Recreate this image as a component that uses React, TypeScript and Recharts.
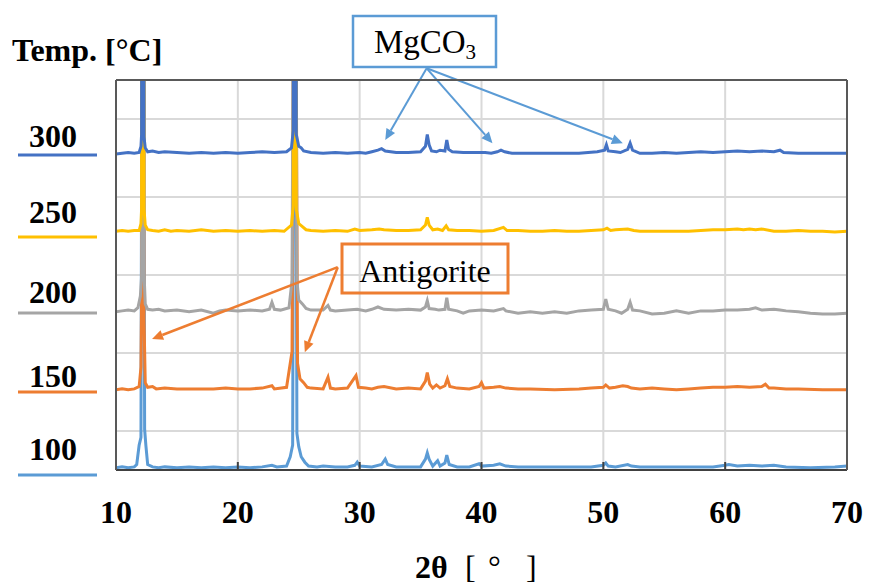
import { LineChart, Line, XAxis, YAxis, CartesianGrid, ReferenceLine } from "recharts";

type Pt = [number, number];

const temps = ["300", "250", "200", "150", "100"];
const colors = ["#4472C4", "#FFC000", "#A5A5A5", "#ED7D31", "#5B9BD5"];
// each pattern is shifted up by its own band (1 unit = one band)
const offsets = [4.05, 3.04, 2.03, 1.02, 0.02];
const xTicks = [10, 20, 30, 40, 50, 60, 70];
const bandTicks = [0.5, 1.5, 2.5, 3.5, 4.5];

// [2θ, intensity above baseline]
const xrd300: Pt[] = [
  [10, 0], [10.5, 0.01], [11, 0.02], [11.5, 0.01], [11.9, 0.02], [12.05, 0.1], [12.1, 0.25], [12.13, 6], [12.27, 6],
  [12.3, 0.22], [12.4, 0.08], [12.6, 0.03], [13, 0.04], [13.5, 0.02], [14, 0.03], [15, 0.02], [16, 0.01], [17, 0.02],
  [18, 0.01], [19, 0.02], [20, 0.01], [21, 0.02], [22, 0.03], [23, 0.02], [24, 0.03], [24.4, 0.08], [24.55, 0.3],
  [24.6, 6], [24.75, 6], [24.8, 0.25], [25, 0.1], [25.2, 0.08], [25.4, 0.04], [26, 0.02], [27, 0.01], [28, 0.02],
  [29, 0.01], [30, 0.02], [30.5, 0.01], [31, 0.03], [31.5, 0.05], [31.8, 0.07], [32.1, 0.04], [33, 0.02], [34, 0.02],
  [35, 0.03], [35.4, 0.1], [35.55, 0.25], [35.7, 0.12], [35.9, 0.04], [36.3, 0.03], [36.6, 0.05], [37, 0.04],
  [37.15, 0.18], [37.3, 0.06], [37.6, 0.03], [38.5, 0.02], [39.5, 0.02], [40.3, 0.02], [40.8, 0.01], [41.3, 0.03],
  [41.6, 0.05], [41.9, 0.03], [42.5, 0.01], [43, 0.01], [45, 0.01], [48, 0.01], [49.5, 0.03], [50.1, 0.05],
  [50.25, 0.12], [50.4, 0.04], [51, 0.03], [51.4, 0.02], [52, 0.06], [52.2, 0.14], [52.4, 0.05], [53, 0.01],
  [54, 0.01], [55, 0.02], [56, 0.01], [57, 0.02], [58, 0.03], [59, 0.02], [60, 0.03], [61, 0.04], [62, 0.03],
  [63, 0.04], [64, 0.03], [64.5, 0.05], [64.8, 0.02], [66, 0.01], [68, 0.01], [70, 0.01],
];

const xrd250: Pt[] = [
  [10, 0.02], [10.5, 0.03], [11, 0.02], [11.5, 0.03], [11.9, 0.03], [12.05, 0.12], [12.1, 0.3], [12.13, 6], [12.27, 6],
  [12.3, 0.3], [12.4, 0.1], [12.6, 0.04], [13, 0.03], [13.5, 0.02], [14, 0.04], [14.5, 0.02], [15, 0.03], [16, 0.02],
  [17, 0.04], [18, 0.02], [19, 0.03], [20, 0.02], [21, 0.03], [22, 0.02], [23, 0.03], [23.8, 0.02], [24.4, 0.1],
  [24.55, 0.35], [24.6, 6], [24.75, 6], [24.8, 0.3], [25, 0.12], [25.3, 0.08], [25.6, 0.04], [26, 0.03], [27, 0.02],
  [28, 0.03], [29, 0.02], [29.6, 0.05], [30, 0.03], [31, 0.04], [31.6, 0.05], [32, 0.04], [33, 0.03], [34, 0.03],
  [35, 0.04], [35.4, 0.1], [35.55, 0.2], [35.7, 0.1], [36, 0.04], [36.4, 0.05], [36.8, 0.03], [37.1, 0.09],
  [37.3, 0.04], [38, 0.03], [39, 0.03], [40, 0.02], [41, 0.03], [41.8, 0.07], [42.1, 0.03], [43, 0.03], [44, 0.02],
  [45, 0.02], [46, 0.03], [47, 0.02], [48, 0.02], [49, 0.03], [50, 0.04], [50.3, 0.06], [50.6, 0.03], [51, 0.04],
  [52, 0.05], [52.5, 0.03], [53, 0.02], [55, 0.02], [57, 0.02], [58, 0.03], [59, 0.04], [60, 0.04], [61, 0.05],
  [61.5, 0.04], [62, 0.05], [62.5, 0.04], [63, 0.05], [64, 0.02], [65, 0.02], [66, 0.03], [67, 0.02], [68, 0.02],
  [69, 0.01], [70, 0.02],
];

const xrd200: Pt[] = [
  [10, 0], [10.5, 0.01], [11, 0.02], [11.5, 0.01], [11.8, 0.05], [12.0, 0.2], [12.1, 0.45], [12.13, 6], [12.27, 6],
  [12.3, 0.5], [12.4, 0.1], [12.6, 0.03], [13, 0.02], [13.5, 0.03], [14, 0.01], [15, 0.02], [16, 0], [17, 0.02],
  [18, -0.02], [18.5, 0.01], [19, 0.02], [20, 0.01], [21, 0.02], [22, 0.01], [22.6, 0.03], [22.8, 0.12], [23.0, 0.03],
  [23.5, 0.02], [24.2, 0.05], [24.45, 0.4], [24.6, 6], [24.75, 6], [24.85, 0.4], [25.0, 0.15], [25.3, 0.1],
  [25.6, 0.04], [26, 0.02], [27, 0.02], [27.4, 0.08], [27.6, 0.02], [28, 0.01], [29, 0.02], [29.8, 0.03], [30.5, 0.01],
  [31, 0.03], [31.5, 0.06], [32, 0.03], [33, 0.02], [34, 0.03], [35, 0.02], [35.4, 0.06], [35.55, 0.14], [35.7, 0.04],
  [36.2, 0.03], [36.5, 0.02], [37, 0.03], [37.15, 0.18], [37.3, 0.03], [38, 0.01], [38.5, -0.02], [39, 0.01],
  [40, 0.02], [41, 0.01], [41.8, 0.04], [42, 0.01], [43, -0.02], [44, 0], [45, -0.02], [46, 0], [47, -0.02],
  [48, 0.01], [49, 0.02], [50, 0.03], [50.2, 0.16], [50.4, 0.03], [51, 0.01], [51.5, -0.02], [52, 0.03],
  [52.2, 0.12], [52.4, 0.02], [53, 0.01], [54, -0.03], [55, -0.02], [56, 0.01], [57, -0.02], [58, 0.01], [59, 0.01],
  [60, 0.02], [61, 0.02], [62, 0.03], [62.5, 0.05], [63, 0.02], [64, 0.03], [64.5, 0.02], [65, 0.01], [66, 0],
  [67, -0.02], [68, -0.03], [69, -0.03], [70, -0.02],
];

const xrd150: Pt[] = [
  [10, 0.01], [10.5, 0.02], [11, 0.01], [11.5, 0.02], [11.9, 0.05], [12.05, 0.3], [12.1, 1.2], [12.13, 6], [12.27, 6],
  [12.3, 0.9], [12.4, 0.1], [12.6, 0.04], [13, 0.05], [13.3, 0.02], [14, 0.03], [15, 0.02], [16, 0.02], [17, 0.02],
  [18, 0.02], [19, 0.03], [20, 0.02], [21, 0.02], [22, 0.03], [22.8, 0.06], [23, 0.02], [24, 0.04], [24.45, 0.5],
  [24.6, 6], [24.75, 6], [24.9, 0.35], [25.1, 0.15], [25.4, 0.1], [25.7, 0.04], [26, 0.03], [27, 0.02], [27.4, 0.17],
  [27.6, 0.03], [28, 0.02], [29, 0.03], [29.7, 0.19], [29.9, 0.04], [30.5, 0.03], [31, 0.02], [31.5, 0.04],
  [32, 0.05], [33, 0.02], [34, 0.03], [35, 0.02], [35.4, 0.12], [35.55, 0.23], [35.75, 0.08], [36, 0.03],
  [36.3, 0.07], [36.6, 0.03], [37, 0.06], [37.2, 0.15], [37.4, 0.05], [38, 0.03], [39, 0.02], [39.8, 0.05],
  [40.0, 0.1], [40.2, 0.03], [41, 0.04], [41.5, 0.05], [42, 0.03], [43, 0.02], [44, 0.02], [46, 0.01], [48, 0.02],
  [49, 0.03], [50, 0.04], [50.2, 0.07], [50.5, 0.03], [51, 0.04], [51.6, 0.06], [52, 0.05], [52.3, 0.03], [53, 0.02],
  [54, 0.03], [55, 0.02], [56, 0.01], [57, 0.02], [58, 0.03], [59, 0.04], [60, 0.04], [61, 0.05], [62, 0.04],
  [63, 0.05], [63.3, 0.08], [63.6, 0.03], [64, 0.03], [65, 0.02], [66, 0.02], [68, 0.01], [70, 0.01],
];

const xrd100: Pt[] = [
  [10, 0.01], [10.5, 0.02], [11, 0.01], [11.5, 0.02], [11.7, 0.05], [11.9, 0.3], [12.05, 0.4], [12.13, 6], [12.27, 6],
  [12.35, 0.5], [12.45, 0.3], [12.6, 0.05], [13, 0.02], [13.5, 0.01], [14, 0.02], [15, 0.01], [16, 0.02], [17, 0.01],
  [18, 0.02], [19, 0.01], [20, 0.02], [21, 0.01], [22, 0.02], [22.8, 0.04], [23.2, 0.02], [24, 0.03], [24.3, 0.15],
  [24.5, 0.3], [24.6, 6], [24.75, 6], [24.85, 0.45], [25.0, 0.28], [25.2, 0.15], [25.5, 0.08], [25.8, 0.03],
  [26.5, 0.02], [27, 0.03], [28, 0.02], [29, 0.02], [29.6, 0.04], [29.8, 0.08], [30, 0.03], [31, 0.02], [31.8, 0.05],
  [32.1, 0.12], [32.3, 0.05], [33, 0.02], [34, 0.02], [35, 0.02], [35.4, 0.12], [35.55, 0.2], [35.7, 0.12], [36, 0.03],
  [36.4, 0.1], [36.6, 0.03], [37, 0.07], [37.15, 0.17], [37.35, 0.05], [38, 0.02], [39, 0.02], [39.8, 0.06],
  [40, 0.03], [41, 0.04], [41.5, 0.06], [42, 0.03], [43, 0.02], [45, 0.02], [47, 0.02], [49, 0.02], [50, 0.04],
  [50.2, 0.07], [50.4, 0.03], [51, 0.02], [52, 0.05], [52.3, 0.03], [53, 0.02], [55, 0.02], [57, 0.02], [59, 0.02],
  [60, 0.04], [60.3, 0.05], [61, 0.03], [62, 0.04], [63, 0.03], [64, 0.04], [65, 0.02], [67, 0.01], [69, 0.02],
  [70, 0.03],
];

const patterns = [xrd300, xrd250, xrd200, xrd150, xrd100];

// annotation arrows, [2θ from, band from, 2θ to, band to]
const mgco3Arrows = [
  [35.5, 5.15, 32.1, 4.23],
  [35.5, 5.15, 40.9, 4.19],
  [35.5, 5.15, 51.6, 4.19],
];
const antigoriteArrows = [
  [28.2, 2.6, 12.96, 1.68],
  [28.2, 2.6, 25.5, 1.51],
];

const serif = "'Liberation Serif', 'Times New Roman', serif";

const Arrow = (props: any) => {
  const { x1, y1, x2, y2, stroke, strokeWidth } = props;
  const a = Math.atan2(y2 - y1, x2 - x1);
  const len = 11;
  const half = 5;
  const bx = x2 - len * Math.cos(a);
  const by = y2 - len * Math.sin(a);
  const pts = `${x2},${y2} ${bx + half * Math.sin(a)},${by - half * Math.cos(a)} ${bx - half * Math.sin(a)},${by + half * Math.cos(a)}`;
  return (
    <g>
      <line x1={x1} y1={y1} x2={bx} y2={by} stroke={stroke} strokeWidth={strokeWidth} />
      <polygon points={pts} fill={stroke} />
    </g>
  );
};

// y-axis ticks are only there for the grid, no label
const NoTick = () => <g />;

const labelBase = [147, 223, 303, 387, 460];
const legendLineY = [155, 237, 313, 392, 475];

export default function App() {
  return (
    <div style={{ position: "absolute", left: 0, top: 0, width: 869, height: 585, background: "#fff" }}>
      <LineChart width={869} height={585} margin={{ top: 79, right: 21, bottom: 114, left: 115 }}>
        <CartesianGrid stroke="#D9D9D9" strokeWidth={2} />
        <XAxis
          dataKey="t"
          type="number"
          domain={[10, 70]}
          ticks={xTicks}
          allowDataOverflow
          height={1}
          tickSize={-8}
          tickMargin={38}
          tickLine={{ stroke: "#404040", strokeWidth: 2 }}
          axisLine={{ stroke: "#404040", strokeWidth: 2 }}
          tick={{ fontSize: 32, fontWeight: "bold", fill: "#000", fontFamily: serif }}
        />
        <XAxis
          xAxisId="top"
          orientation="top"
          dataKey="t"
          type="number"
          domain={[10, 70]}
          height={1}
          tick={false}
          tickLine={false}
          axisLine={{ stroke: "#595959", strokeWidth: 2 }}
        />
        <YAxis
          type="number"
          domain={[0, 5]}
          ticks={bandTicks}
          allowDataOverflow
          width={1}
          tick={NoTick}
          tickLine={false}
          axisLine={{ stroke: "#595959", strokeWidth: 2 }}
        />
        <YAxis
          yAxisId="right"
          orientation="right"
          type="number"
          domain={[0, 5]}
          width={1}
          tick={false}
          tickLine={false}
          axisLine={{ stroke: "#595959", strokeWidth: 2 }}
        />
        {[4, 3, 2, 1, 0].map((i) => (
          <Line
            key={temps[i]}
            data={patterns[i].map(([t, v]) => ({ t, v: v + offsets[i] }))}
            dataKey="v"
            type="linear"
            stroke={colors[i]}
            strokeWidth={3}
            dot={false}
            isAnimationActive={false}
          />
        ))}
        {mgco3Arrows.map((a, k) => (
          <ReferenceLine
            key={"m" + k}
            segment={[{ x: a[0], y: a[1] }, { x: a[2], y: a[3] }]}
            ifOverflow="visible"
            stroke="#5B9BD5"
            strokeWidth={2}
            shape={Arrow}
          />
        ))}
        {antigoriteArrows.map((a, k) => (
          <ReferenceLine
            key={"a" + k}
            segment={[{ x: a[0], y: a[1] }, { x: a[2], y: a[3] }]}
            ifOverflow="visible"
            stroke="#ED7D31"
            strokeWidth={2.5}
            shape={Arrow}
          />
        ))}
      </LineChart>

      <svg width={869} height={585} style={{ position: "absolute", left: 0, top: 0, pointerEvents: "none" }}>
        <text x={12} y={61} fontFamily={serif} fontWeight="bold" fontSize={32} fill="#000">
          Temp. [°C]
        </text>
        {temps.map((t, i) => (
          <g key={t}>
            <text x={53} y={labelBase[i]} textAnchor="middle" fontFamily={serif} fontWeight="bold" fontSize={32} fill="#000">
              {t}
            </text>
            <line x1={18} x2={97} y1={legendLineY[i]} y2={legendLineY[i]} stroke={colors[i]} strokeWidth={3} />
          </g>
        ))}

        <rect x={353} y={16} width={143} height={51} fill="#fff" stroke="#5B9BD5" strokeWidth={2.5} />
        <text x={425} y={53} textAnchor="middle" fontFamily={serif} fontSize={33} fill="#000">
          MgCO<tspan fontSize={21} dy={6}>3</tspan>
        </text>

        <rect x={342} y={244} width={166} height={49} fill="none" stroke="#ED7D31" strokeWidth={3} />
        <text x={425} y={282} textAnchor="middle" fontFamily={serif} fontSize={32} fill="#000">
          Antigorite
        </text>

        <text x={415} y={578} fontFamily={serif} fontWeight="bold" fontSize={32} fill="#000">2θ</text>
        <text x={465} y={578} fontFamily={serif} fontSize={32} fill="#000">[</text>
        <text x={488} y={578} fontFamily={serif} fontSize={32} fill="#000">°</text>
        <text x={526} y={578} fontFamily={serif} fontSize={32} fill="#000">]</text>
      </svg>
    </div>
  );
}
